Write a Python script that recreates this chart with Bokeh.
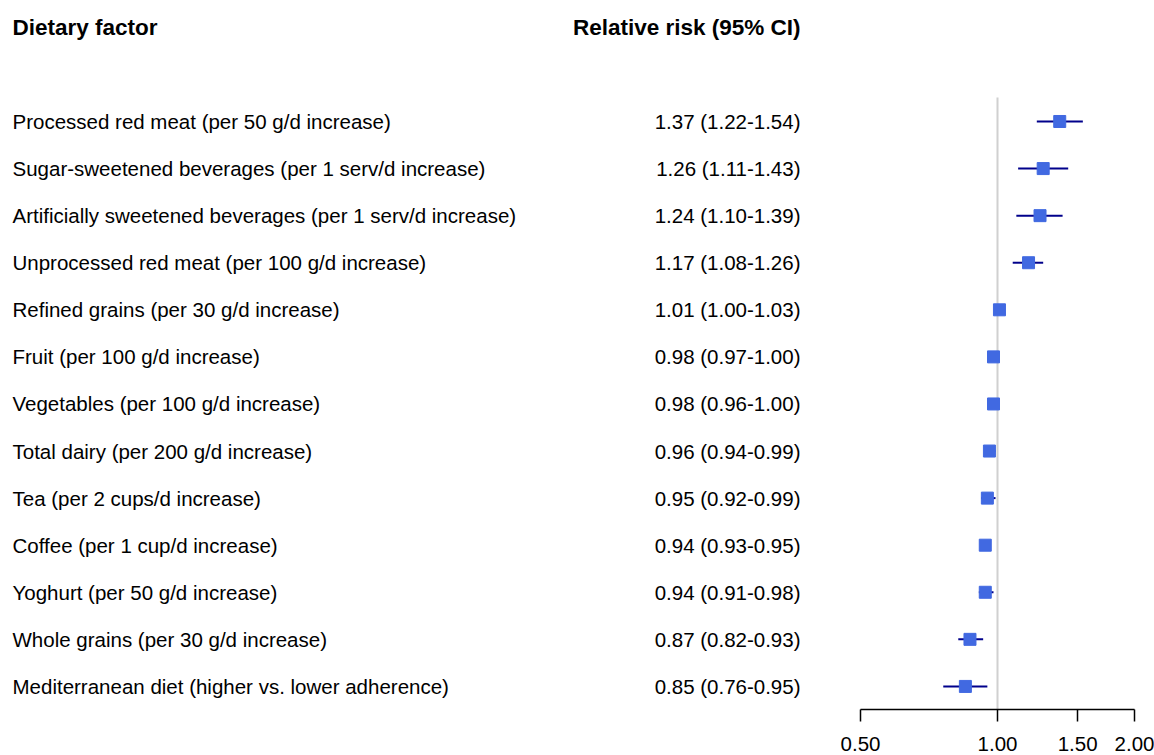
import math
from bokeh.plotting import figure
from bokeh.models import Range1d, LinearScale, FixedTicker, NumeralTickFormatter, ColumnDataSource
from bokeh.core.properties import value
from bokeh.embed import file_html
from bokeh.resources import INLINE

# Dietary factors, relative risk and 95% confidence bounds
factors = [
    "Processed red meat (per 50 g/d increase)",
    "Sugar-sweetened beverages (per 1 serv/d increase)",
    "Artificially sweetened beverages (per 1 serv/d increase)",
    "Unprocessed red meat (per 100 g/d increase)",
    "Refined grains (per 30 g/d increase)",
    "Fruit (per 100 g/d increase)",
    "Vegetables (per 100 g/d increase)",
    "Total dairy (per 200 g/d increase)",
    "Tea (per 2 cups/d increase)",
    "Coffee (per 1 cup/d increase)",
    "Yoghurt (per 50 g/d increase)",
    "Whole grains (per 30 g/d increase)",
    "Mediterranean diet (higher vs. lower adherence)",
]
rr = [1.37, 1.26, 1.24, 1.17, 1.01, 0.98, 0.98, 0.96, 0.95, 0.94, 0.94, 0.87, 0.85]
lower = [1.22, 1.11, 1.10, 1.08, 1.00, 0.97, 0.96, 0.94, 0.92, 0.93, 0.91, 0.82, 0.76]
upper = [1.54, 1.43, 1.39, 1.26, 1.03, 1.00, 1.00, 0.99, 0.99, 0.95, 0.98, 0.93, 0.95]
x_ticks = [0.5, 1.0, 1.5, 2.0]

W, H = 1154, 755
FONT = "Liberation Sans"

rows = list(range(len(factors)))
ci_text = [f"{r:.2f} ({lo:.2f}-{hi:.2f})" for r, lo, hi in zip(rr, lower, upper)]
src = ColumnDataSource(dict(y=rows, rr=rr, lo=lower, hi=upper, name=factors, ci=ci_text))

# log scale placing 1.00 at pixel 997, ~197.7 px per natural-log unit
px_per_ln = 197.66
x_start = math.exp(-997 / px_per_ln)
x_end = math.exp((W - 997) / px_per_ln)

p = figure(
    width=W, height=H, output_backend="svg", toolbar_location=None,
    x_axis_type="log", y_axis_location=None,
    x_range=Range1d(x_start, x_end), y_range=Range1d(12.49, -2.57),
    min_border_left=0, min_border_right=0, min_border_top=0, min_border_bottom=46,
)
p.outline_line_color = None
p.xgrid.visible = False
p.ygrid.visible = False
p.background_fill_color = "white"
p.border_fill_color = "white"

# pixel-based range for the text columns
p.extra_x_ranges = {"px": Range1d(0, W)}
p.extra_x_scales = {"px": LinearScale()}

# reference line at RR = 1
p.segment(x0=[1.0], x1=[1.0], y0=[-0.51], y1=[12.49], line_color="#d0d0d0", line_width=2)

# confidence intervals and point estimates
p.segment(x0="lo", x1="hi", y0="y", y1="y", source=src, line_color="#00008b", line_width=2)
p.scatter(x="rr", y="y", source=src, marker="square", size=12,
          fill_color="#4169e1", line_color="#4169e1")

# text columns
p.text(x=[12], y=[-2.0], text=["Dietary factor"], x_range_name="px",
       text_font=value(FONT), text_font_size="22.5px", text_font_style="bold",
       text_baseline="middle", text_align="left", text_color="black")
p.text(x=[800], y=[-2.0], text=["Relative risk (95% CI)"], x_range_name="px",
       text_font=value(FONT), text_font_size="22.5px", text_font_style="bold",
       text_baseline="middle", text_align="right", text_color="black")
p.text(x=12, y="y", text="name", source=src, x_range_name="px",
       text_font=value(FONT), text_font_size="20.5px",
       text_baseline="middle", text_align="left", text_color="black")
p.text(x=800, y="y", text="ci", source=src, x_range_name="px",
       text_font=value(FONT), text_font_size="20.5px",
       text_baseline="middle", text_align="right", text_color="black")

# x axis
ax = p.xaxis[0]
ax.bounds = (0.5, 2.0)
ax.ticker = FixedTicker(ticks=x_ticks, minor_ticks=[])
ax.formatter = NumeralTickFormatter(format="0.00")
ax.axis_line_color = "black"
ax.axis_line_width = 1.5
ax.major_tick_line_color = "black"
ax.major_tick_line_width = 1.5
ax.major_tick_out = 12
ax.major_tick_in = 0
ax.minor_tick_out = 0
ax.minor_tick_in = 0
ax.major_label_text_font = FONT
ax.major_label_text_font_size = "20.5px"
ax.major_label_text_color = "black"
ax.major_label_standoff = 15

open("out.html", "w").write(file_html(p, INLINE))
